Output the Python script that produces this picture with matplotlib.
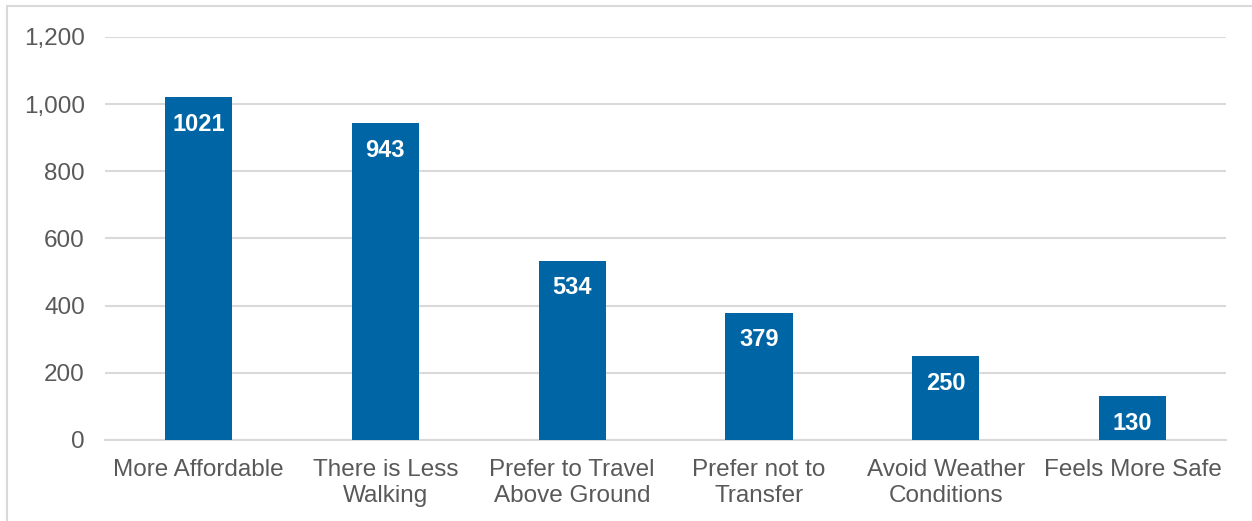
import matplotlib.pyplot as plt
from matplotlib.patches import Rectangle
from matplotlib.ticker import FuncFormatter

plt.rcParams['font.family'] = ['Liberation Sans', 'DejaVu Sans']

categories = ["More Affordable", "There is Less\nWalking", "Prefer to Travel\nAbove Ground",
              "Prefer not to\nTransfer", "Avoid Weather\nConditions", "Feels More Safe"]
counts = [1021, 943, 534, 379, 250, 130]

bar_color = "#0065A5"
text_color = "#595959"
grid_color = "#D9D9D9"

fig = plt.figure(figsize=(12.52, 5.21), dpi=100)
ax = fig.add_axes([0.0839, 0.1555, 0.8954, 0.7735])

# light frame around the chart area
fig.patches.append(Rectangle((7 / 1252, -0.1), 1.2, (1 - 6 / 521) + 0.1, transform=fig.transFigure,
                             fill=False, edgecolor="#D9D9D9", linewidth=1.5))

x = range(len(categories))
bars = ax.bar(x, counts, width=0.36, color=bar_color, zorder=3)

for b, v in zip(bars, counts):
    ax.annotate(str(v), (b.get_x() + b.get_width() / 2, v), xytext=(0, -19.5),
                textcoords="offset points", ha="center", va="center",
                color="white", fontsize=17, fontweight="bold", zorder=4)

ax.set_xlim(-0.5, len(categories) - 0.5)
ax.set_ylim(0, 1200)
ax.set_yticks(range(0, 1201, 200))
ax.yaxis.set_major_formatter(FuncFormatter(lambda v, p: f"{int(v):,}"))
ax.set_xticks(list(x))
ax.set_xticklabels(categories, linespacing=1.28)

ax.grid(axis="y", color=grid_color, linewidth=1.5, zorder=0)
for s in ["top", "right", "left"]:
    ax.spines[s].set_visible(False)
ax.spines["bottom"].set_color(grid_color)
ax.spines["bottom"].set_linewidth(1.5)

ax.tick_params(axis="both", length=0, labelsize=17.5, colors=text_color)
ax.tick_params(axis="y", pad=14.5)
ax.tick_params(axis="x", pad=13.5)

fig.savefig("out.png", dpi=100)
